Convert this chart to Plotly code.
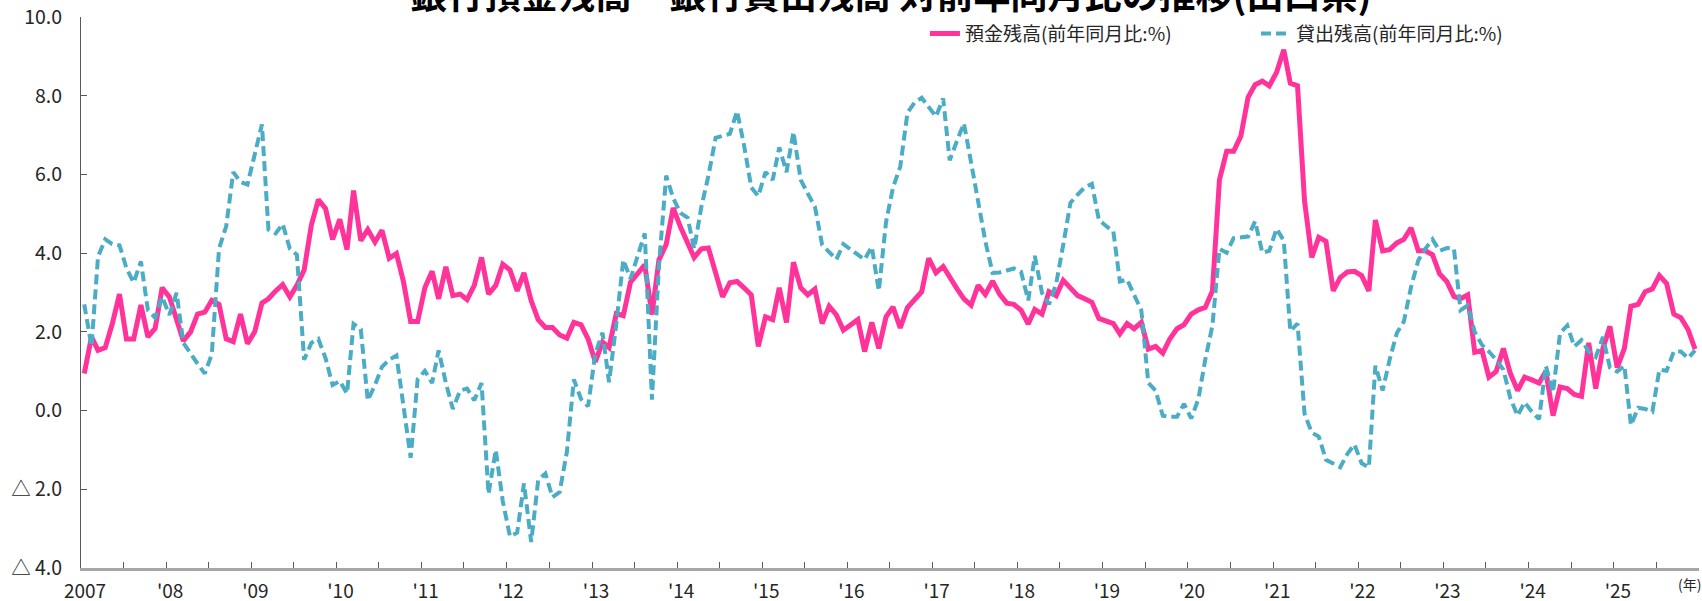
import pandas as pd
import plotly.graph_objects as go

# Monthly year-on-year change (%), Jan 2007 - Dec 2025
deposits = [
    0.94, 1.87, 1.53, 1.60, 2.20, 2.96, 1.82, 1.82, 2.68, 1.87, 2.09, 3.12,   # 2007
    2.89, 2.35, 1.77, 2.00, 2.45, 2.50, 2.80, 2.70, 1.82, 1.75, 2.45, 1.70,   # 2008
    2.00, 2.73, 2.84, 3.04, 3.20, 2.89, 3.18, 3.57, 4.71, 5.36, 5.13, 4.35,   # 2009
    4.86, 4.09, 5.59, 4.32, 4.60, 4.28, 4.58, 3.87, 3.99, 3.28, 2.26, 2.26,   # 2010
    3.12, 3.54, 2.84, 3.65, 2.92, 2.96, 2.82, 3.18, 3.89, 2.96, 3.18, 3.72,   # 2011
    3.57, 3.04, 3.50, 2.79, 2.31, 2.11, 2.11, 1.92, 1.84, 2.24, 2.18, 1.82,   # 2012
    1.24, 1.74, 1.60, 2.46, 2.41, 3.26, 3.47, 3.70, 2.44, 3.83, 4.22, 5.15,   # 2013
    4.67, 4.25, 3.89, 4.11, 4.13, 3.50, 2.89, 3.25, 3.28, 3.12, 2.94, 1.63,   # 2014
    2.38, 2.31, 3.12, 2.24, 3.77, 3.12, 2.94, 3.09, 2.21, 2.65, 2.43, 2.04,   # 2015
    2.16, 2.31, 1.50, 2.24, 1.58, 2.38, 2.63, 2.10, 2.62, 2.82, 3.02, 3.87,   # 2016
    3.50, 3.66, 3.37, 3.10, 2.84, 2.68, 3.18, 2.95, 3.29, 2.96, 2.73, 2.70,   # 2017
    2.55, 2.20, 2.57, 2.45, 3.02, 2.92, 3.31, 3.12, 2.92, 2.84, 2.75, 2.34,   # 2018
    2.28, 2.21, 1.95, 2.21, 2.08, 2.24, 1.56, 1.63, 1.46, 1.82, 2.08, 2.18,   # 2019
    2.45, 2.56, 2.62, 3.04, 5.86, 6.59, 6.59, 6.98, 7.96, 8.28, 8.37, 8.25,   # 2020
    8.59, 9.17, 8.32, 8.25, 5.33, 3.89, 4.40, 4.30, 3.04, 3.38, 3.52, 3.54,   # 2021
    3.43, 3.04, 4.84, 4.06, 4.09, 4.26, 4.35, 4.64, 4.06, 4.06, 3.96, 3.48,   # 2022
    3.28, 2.90, 2.84, 2.94, 1.48, 1.53, 0.85, 0.99, 1.58, 0.94, 0.51, 0.85,   # 2023
    0.78, 0.70, 1.00, -0.13, 0.60, 0.56, 0.41, 0.36, 1.72, 0.56, 1.58, 2.14,  # 2024
    1.09, 1.58, 2.65, 2.70, 3.02, 3.09, 3.43, 3.23, 2.45, 2.36, 2.06, 1.56,   # 2025
]

loans = [
    2.70, 1.63, 3.91, 4.35, 4.23, 4.20, 3.62, 3.25, 3.79, 2.55, 2.36, 2.89,   # 2007
    2.43, 2.99, 1.72, 1.43, 1.19, 0.94, 1.43, 4.11, 4.69, 6.06, 5.81, 5.74,   # 2008
    6.54, 7.27, 4.60, 4.50, 4.74, 4.11, 3.96, 1.29, 1.72, 1.82, 1.33, 0.65,   # 2009
    0.75, 0.43, 2.20, 2.07, 0.26, 0.65, 1.11, 1.29, 1.40, 0.12, -1.20, 0.80,  # 2010
    1.01, 0.70, 1.53, 0.70, 0.04, 0.51, 0.56, 0.26, 0.70, -2.12, -1.00, -2.30,    # 2011
    -3.20, -3.10, -1.85, -3.34, -1.77, -1.60, -2.20, -2.07, -1.05, 0.79, 0.29, 0.11,  # 2012
    1.45, 1.98, 0.72, 2.20, 3.83, 3.35, 3.95, 4.50, 0.28, 3.70, 5.97, 5.40,   # 2013
    5.02, 4.90, 4.11, 5.18, 5.96, 6.93, 6.98, 7.03, 7.61, 6.74, 5.67, 5.45,   # 2014
    6.06, 5.86, 6.69, 6.06, 7.08, 5.86, 5.52, 5.18, 4.21, 4.01, 3.84, 4.23,   # 2015
    4.11, 3.96, 3.84, 4.16, 3.04, 4.79, 5.67, 6.20, 7.57, 7.82, 7.95, 7.70,   # 2016
    7.47, 7.93, 6.36, 6.85, 7.30, 6.30, 5.30, 4.30, 3.50, 3.51, 3.56, 3.61,   # 2017
    3.53, 2.80, 3.93, 2.99, 2.70, 3.23, 4.21, 5.28, 5.49, 5.67, 5.76, 4.84,   # 2018
    4.69, 4.55, 3.28, 3.33, 2.94, 2.55, 0.70, 0.51, -0.13, -0.16, -0.16, 0.17,    # 2019
    -0.20, 0.30, 1.29, 2.16, 4.11, 4.01, 4.38, 4.40, 4.42, 4.81, 4.01, 4.06,  # 2020
    4.62, 4.32, 2.02, 2.21, -0.08, -0.56, -0.66, -1.25, -1.34, -1.44, -1.10, -0.86,  # 2021
    -1.34, -1.44, 1.14, 0.51, 1.29, 1.97, 2.26, 3.14, 3.82, 4.11, 4.35, 4.06,  # 2022
    4.13, 4.11, 2.55, 2.67, 2.00, 1.67, 1.50, 1.29, 1.04, 0.31, -0.13, 0.21,  # 2023
    -0.03, -0.22, 1.14, 0.46, 1.97, 2.16, 1.63, 1.79, 1.50, 1.36, 1.87, 1.09,  # 2024
    0.99, 1.14, -0.37, 0.07, 0.04, -0.03, 1.04, 1.01, 1.50, 1.50, 1.33, 1.53,  # 2025
]

years = list(range(2007, 2026))
year_labels = ["2007"] + [f"'{y % 100:02d}" for y in years[1:]]

y_ticks = [10, 8, 6, 4, 2, 0, -2, -4]
y_tick_labels = ["10.0", "8.0", "6.0", "4.0", "2.0", "0.0", "△ 2.0", "△ 4.0"]

title_text = "銀行預金残高・銀行貸出残高 対前年同月比の推移(山口県)"
deposit_name = "預金残高(前年同月比:%)"
loan_name = "貸出残高(前年同月比:%)"

# each monthly value is plotted at the middle of its month
months = pd.date_range("2007-01-01", periods=len(deposits), freq="MS") + pd.Timedelta(days=14)

# ticks every half year, labels on January only
tick_vals = []
tick_text = []
for y in range(2007, 2027):
    tick_vals.append(f"{y}-01-01")
    tick_text.append(year_labels[y - 2007] if y <= 2025 else "")
    if y <= 2025:
        tick_vals.append(f"{y}-07-01")
        tick_text.append("")

FONT = "Noto Sans CJK JP"
PINK = "#FF3399"
AQUA = "#4BACC6"
TEXT = "#262626"

fig = go.Figure()
fig.add_trace(go.Scatter(
    x=months, y=deposits, name=deposit_name, mode="lines",
    line=dict(color=PINK, width=5), legend="legend", showlegend=True,
))
fig.add_trace(go.Scatter(
    x=months, y=loans, name=loan_name, mode="lines",
    line=dict(color=AQUA, width=4, dash="10px,5px"), legend="legend2", showlegend=True,
))

legend_common = dict(
    orientation="h", yanchor="middle", xanchor="left",
    font=dict(family=FONT, size=19, color=TEXT),
    bgcolor="rgba(0,0,0,0)", borderwidth=0,
)

fig.update_layout(
    template="none",
    width=1702, height=601, autosize=False,
    margin=dict(l=81, r=3, t=17, b=33, pad=0),
    paper_bgcolor="white", plot_bgcolor="white",
    font=dict(family=FONT, size=19, color=TEXT),
    showlegend=True,
    legend=dict(x=0.5216, y=0.970, **legend_common),
    legend2=dict(x=0.7262, y=0.970, **legend_common),
    xaxis=dict(
        type="date", automargin=False,
        range=["2007-01-01", "2026-01-01"],
        tickmode="array", tickvals=tick_vals, ticktext=tick_text,
        ticks="inside", ticklen=6, tickwidth=1, tickcolor="#595959",
        showline=True, linecolor="#A6A6A6", linewidth=2.5,
        showgrid=False, zeroline=False,
        tickfont=dict(family=FONT, size=19, color=TEXT),
        ticklabelstandoff=4, ticklabelshift=4,
    ),
    yaxis=dict(
        automargin=False,
        range=[-4, 10],
        tickmode="array", tickvals=y_ticks, ticktext=y_tick_labels,
        ticks="inside", ticklen=6, tickwidth=1, tickcolor="#595959",
        showline=True, linecolor="#595959", linewidth=1,
        showgrid=False, zeroline=False,
        tickfont=dict(family=FONT, size=19.5, color=TEXT),
        ticklabelstandoff=14,
    ),
    annotations=[
        # chart title, running off the top edge of the page
        dict(
            text=f"<b>{title_text}</b>", x=0.5, xref="paper", xanchor="center",
            y=1.043, yref="paper", yanchor="middle", showarrow=False,
            font=dict(family=FONT, size=37, color="black"),
        ),
        # unit label under the right end of the time axis
        dict(
            text="(年)", x=0.994, xref="paper", xanchor="center",
            y=-0.029, yref="paper", yanchor="middle", showarrow=False,
            font=dict(family=FONT, size=14, color=TEXT),
        ),
    ],
)

fig.write_html("out.html")
